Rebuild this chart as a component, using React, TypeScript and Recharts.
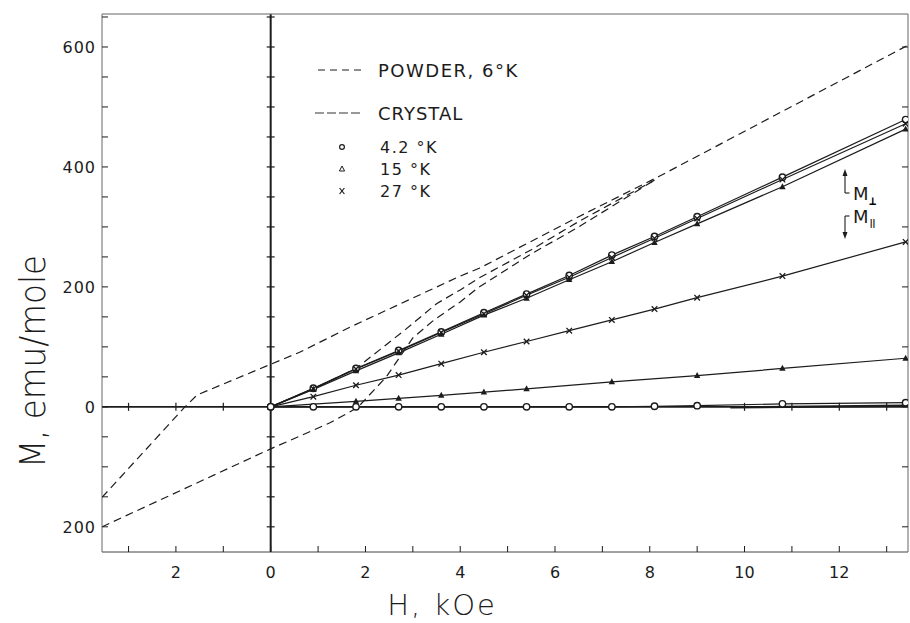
import React from 'react';
import { ComposedChart, Line, Scatter, XAxis, YAxis, ReferenceLine } from 'recharts';

// field points (kOe) where the crystal was measured
const fieldPts = [0, 0.9, 1.8, 2.7, 3.6, 4.5, 5.4, 6.3, 7.2, 8.1, 9.0, 10.8, 13.4];

// M perpendicular
const perp42 = [0, 31, 64, 94, 125, 157, 188, 219, 253, 284, 317, 383, 479];
const perp27 = [0, 30, 63, 93, 124, 155, 186, 216, 249, 281, 314, 379, 472];
const perp15 = [0, 29, 60, 90, 121, 153, 181, 212, 242, 274, 305, 367, 463];

// M parallel
const par42 = [0, 0, 0, 0, 0, 0, 0, 0, 0, 1, 2, 5, 7];
const par27 = [0, 17, 36, 53, 72, 91, 109, 127, 145, 163, 182, 218, 275];
const par15Field = [0, 1.8, 2.7, 3.6, 4.5, 5.4, 7.2, 9.0, 10.8, 13.4];
const par15 = [0, 9, 14, 19, 24.5, 30, 41.5, 52, 64, 81];
const parHighField = [9.7, 13.4];
const parHigh = [-1, 2];

// powder, 6 K (dashed loop)
const upperH = [-3.56, -1.81, -1.55, 0, 0.61, 1.73, 4.0, 4.4, 6.5, 8.19, 13.45];
const upperM = [-151, 0, 20, 71, 91, 135, 218, 231, 317, 384, 603];
const lowerH = [-3.56, 0, 1.24, 1.66, 1.85, 2.44, 3.0, 3.45, 4.0, 4.4, 5.5, 6.5, 8.1];
const lowerM = [-200, -70, -27, -9, 0, 50, 115, 145, 175, 200, 255, 300, 378];
const virginH = [0, 0.9, 1.8, 2.3, 2.86, 3.5, 4.0, 4.4, 5.5, 6.5, 8.1];
const virginM = [0, 30, 64, 95, 130, 172, 195, 215, 262, 309, 378];

// axis ticks
const hTicks = [-3, -2, -1, 0, 1, 2, 3, 4, 5, 6, 7, 8, 9, 10, 11, 12, 13];
const mTicks = [-200, -150, -100, -50, 0, 50, 100, 150, 200, 250, 300, 350, 400, 450, 500, 550, 600, 650];
const mTicksRight = [-200, -100, 0, 100, 200, 300, 400, 500, 600];
const mLabels = [-200, 0, 200, 400, 600];
const zeroLineMarksH = [-3, -2, -1, 10, 11, 12, 13];
const zeroLineMarksM = [0, 0, 0, 0, 0, 0, 0];
const hAxisMarksH = [0, 0, 0, 0, 0, 0, 0, 0, 0, 0, 0, 0, 0, 0, 0, 0, 0];
const hAxisMarksM = [-200, -150, -100, -50, 50, 100, 150, 200, 250, 300, 350, 400, 450, 500, 550, 600, 650];

const pts = (hs: number[], ms: number[]) => hs.map((h, i) => ({ h, m: ms[i] }));

const INK = '#1c1c1c';
const FONT = '"DejaVu Sans", sans-serif';

const circleDot = (p: any) => (
  <circle key={p.index} cx={p.cx} cy={p.cy} r={3.2} fill="#fff" stroke={INK} strokeWidth={1.4} />
);
const triDot = (p: any) => (
  <path key={p.index} d={`M${p.cx},${p.cy - 3.6}L${p.cx + 3.2},${p.cy + 2.4}L${p.cx - 3.2},${p.cy + 2.4}Z`} fill={INK} />
);
const crossDot = (p: any) => (
  <path key={p.index} d={`M${p.cx - 2.8},${p.cy - 2.8}L${p.cx + 2.8},${p.cy + 2.8}M${p.cx + 2.8},${p.cy - 2.8}L${p.cx - 2.8},${p.cy + 2.8}`} stroke={INK} strokeWidth={1.3} />
);

const BottomTick = (p: any) => {
  const v = p.payload.value;
  return (
    <g>
      <line x1={p.x} x2={p.x} y1={p.y} y2={p.y - 6} stroke={INK} strokeWidth={1} />
      {v % 2 === 0 && (
        <text x={p.x} y={p.y + 26} textAnchor="middle" fontSize={16} fontFamily={FONT} fill={INK}>
          {Math.abs(v)}
        </text>
      )}
    </g>
  );
};

const TopTick = (p: any) => (
  <line x1={p.x} x2={p.x} y1={p.y} y2={p.y + 6} stroke={INK} strokeWidth={1} />
);

const LeftTick = (p: any) => {
  const v = p.payload.value;
  return (
    <g>
      <line x1={p.x} x2={p.x + 6} y1={p.y} y2={p.y} stroke={INK} strokeWidth={1} />
      {mLabels.includes(v) && (
        <text x={p.x - 6} y={p.y + 6} textAnchor="end" fontSize={16} letterSpacing={1} fontFamily={FONT} fill={INK}>
          {Math.abs(v)}
        </text>
      )}
    </g>
  );
};

const RightTick = (p: any) => (
  <line x1={p.x} x2={p.x - 6} y1={p.y} y2={p.y} stroke={INK} strokeWidth={1} />
);

const hMark = (p: any) => (
  <line x1={p.cx - 4} x2={p.cx + 4} y1={p.cy} y2={p.cy} stroke={INK} strokeWidth={1.2} />
);
const vMark = (p: any) => (
  <line x1={p.cx} x2={p.cx} y1={p.cy - 4} y2={p.cy + 4} stroke={INK} strokeWidth={1.2} />
);

const App: React.FC = () => {
  const xDomain: [number, number] = [-3.56, 13.45];
  const yDomain: [number, number] = [-242, 655];
  const lineProps = { type: 'linear' as const, dataKey: 'm', stroke: INK, strokeWidth: 1.2, isAnimationActive: false, activeDot: false };
  const dashProps = { ...lineProps, dot: false, strokeDasharray: '8 5' };

  return (
    <div style={{ position: 'absolute', left: 0, top: 0, width: 910, height: 623, background: '#fff' }}>
      <ComposedChart width={910} height={623} margin={{ top: 13, right: 1, bottom: 41, left: 42 }}>
        <XAxis
          dataKey="h"
          type="number"
          domain={xDomain}
          allowDataOverflow
          ticks={hTicks}
          interval={0}
          height={30}
          tickSize={0}
          tickMargin={0}
          tickLine={false}
          tick={<BottomTick />}
          axisLine={{ stroke: '#444', strokeWidth: 1 }}
        />
        <XAxis
          xAxisId="top"
          orientation="top"
          type="number"
          domain={xDomain}
          allowDataOverflow
          ticks={hTicks}
          interval={0}
          height={1}
          tickSize={0}
          tickMargin={0}
          tickLine={false}
          tick={<TopTick />}
          axisLine={{ stroke: '#666', strokeWidth: 1 }}
        />
        <YAxis
          type="number"
          domain={yDomain}
          allowDataOverflow
          ticks={mTicks}
          interval={0}
          width={60}
          tickSize={0}
          tickMargin={0}
          tickLine={false}
          tick={<LeftTick />}
          axisLine={{ stroke: '#666', strokeWidth: 1 }}
        />
        <YAxis
          yAxisId="right"
          orientation="right"
          type="number"
          domain={yDomain}
          allowDataOverflow
          ticks={mTicksRight}
          interval={0}
          width={1}
          tickSize={0}
          tickMargin={0}
          tickLine={false}
          tick={<RightTick />}
          axisLine={{ stroke: '#666', strokeWidth: 1 }}
        />

        <ReferenceLine y={0} stroke={INK} strokeWidth={1.8} />
        <ReferenceLine x={0} stroke={INK} strokeWidth={2} />
        <Scatter data={pts(hAxisMarksH, hAxisMarksM)} dataKey="m" shape={hMark} isAnimationActive={false} />
        <Scatter data={pts(zeroLineMarksH, zeroLineMarksM)} dataKey="m" shape={vMark} isAnimationActive={false} />

        <Line {...dashProps} data={pts(upperH, upperM)} />
        <Line {...dashProps} data={pts(lowerH, lowerM)} />
        <Line {...dashProps} data={pts(virginH, virginM)} />

        <Line {...lineProps} data={pts(fieldPts, perp42)} dot={circleDot} />
        <Line {...lineProps} data={pts(fieldPts, perp27)} dot={crossDot} />
        <Line {...lineProps} data={pts(fieldPts, perp15)} dot={triDot} />
        <Line {...lineProps} data={pts(fieldPts, par27)} dot={crossDot} />
        <Line {...lineProps} data={pts(par15Field, par15)} dot={triDot} />
        <Line {...lineProps} data={pts(fieldPts, par42)} dot={circleDot} />
        <Line {...lineProps} data={pts(parHighField, parHigh)} dot={false} strokeWidth={2.2} />
      </ComposedChart>

      <svg width={910} height={623} style={{ position: 'absolute', left: 0, top: 0, pointerEvents: 'none' }}>
        <g fontFamily={FONT} fill={INK}>
          <text transform="translate(45,361.5) rotate(-90)" textAnchor="middle" fontSize={36} fontWeight={300} textLength={213} lengthAdjust="spacingAndGlyphs">
            M, emu/mole
          </text>
          <text x={442} y={615} textAnchor="middle" fontSize={29} fontWeight={300} letterSpacing={2}>
            H, kOe
          </text>

          <line x1={318} x2={363} y1={70} y2={70} stroke={INK} strokeWidth={1.2} strokeDasharray="7 5" />
          <text x={378} y={76.5} fontSize={18} letterSpacing={1.5}>POWDER, 6°K</text>
          <line x1={315} x2={363} y1={113} y2={113} stroke={INK} strokeWidth={0.9} strokeDasharray="9 3" />
          <text x={378} y={119.5} fontSize={18} letterSpacing={1}>CRYSTAL</text>

          <circle cx={342} cy={147} r={2.4} fill="#fff" stroke={INK} strokeWidth={1.2} />
          <text x={380} y={152.5} fontSize={16} letterSpacing={1.5}>4.2 °K</text>
          <path d="M342,166L344.6,171L339.4,171Z" fill="none" stroke={INK} strokeWidth={1} />
          <text x={380} y={175} fontSize={16} letterSpacing={1.5}>15 °K</text>
          <path d="M339.6,188L344.4,194M344.4,188L339.6,194" stroke={INK} strokeWidth={1.2} />
          <text x={380} y={197} fontSize={16} letterSpacing={1.5}>27 °K</text>

          {/* M perp / M par markers */}
          <line x1={845} x2={845} y1={172} y2={193} stroke={INK} strokeWidth={1.1} />
          <path d="M842.5,176L845,169L847.5,176Z" fill={INK} />
          <line x1={845} x2={849.5} y1={193} y2={193} stroke={INK} strokeWidth={1.1} />
          <text x={853} y={200} fontSize={18}>M</text>
          <text x={869} y={205} fontSize={12} fontWeight="bold" fontFamily='"DejaVu Sans Mono", monospace' fill="#000">⊥</text>
          <line x1={845} x2={849.5} y1={216} y2={216} stroke={INK} strokeWidth={1.1} />
          <line x1={845} x2={845} y1={216} y2={236} stroke={INK} strokeWidth={1.1} />
          <path d="M842.5,232L845,239L847.5,232Z" fill={INK} />
          <text x={853} y={223} fontSize={18}>M</text>
          <text x={869.5} y={226} fontSize={9} fontWeight="bold" letterSpacing={-0.5} fill="#000">||</text>
        </g>
      </svg>
    </div>
  );
};

export default App;
